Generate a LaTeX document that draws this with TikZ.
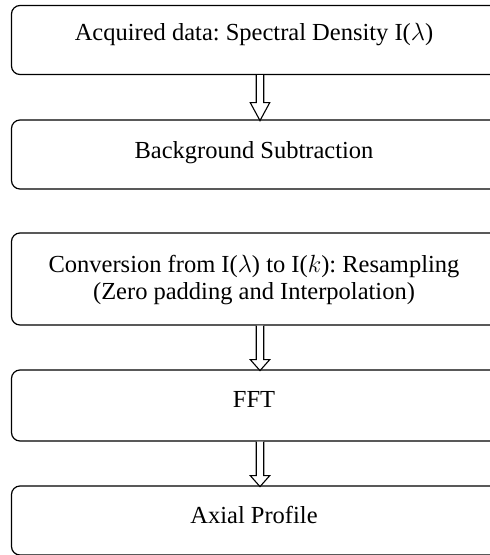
\documentclass[tikz,border=0pt]{standalone}
\usepackage{fontspec}
\setmainfont{Liberation Serif}
\usetikzlibrary{calc}
\frenchspacing
\tikzset{
  box/.style={draw, line width=1.2pt, rounded corners=8.5pt, inner sep=0pt, minimum width=487pt},
  txt/.style={font=\fontsize{24.5}{27}\selectfont, inner sep=0pt, align=center},
  blk/.style={draw, line width=1.1pt, fill=white, line join=miter}
}
\begin{document}
\begin{tikzpicture}[x=1pt,y=-1pt]
\useasboundingbox (0,0) rectangle (490,555);
\clip (0,0) rectangle (490,555);
% boxes: left 11.5, right 498.5
\node[box, minimum height=69pt] (b1) at (255,40) {};
\node[box, minimum height=69pt] (b2) at (255,154.5) {};
\node[box, minimum height=92pt] (b3) at (255,279) {};
\node[box, minimum height=71pt] (b4) at (255,405.5) {};
\node[box, minimum height=69pt] (b5) at (255,520.5) {};
% texts
\node[txt, anchor=base] (t1) at (254,40) {Acquired data: Spectral Density I($\lambda$)};
\node[txt, anchor=base] (t2) at (254,158) {Background Subtraction};
\node[txt, anchor=base] (t3) at (254,299) {Conversion from I($\lambda$) to I($k$): Resampling\\(Zero padding and Interpolation)};
\node[txt, anchor=base] (t4) at (254,407) {FFT};
\node[txt, anchor=base] (t5) at (254,523) {Axial Profile};
% block arrows
\coordinate (ax) at (260,0);
\draw[blk] (b1.south -| ax) ++(-3.75,0) -- ++(0,27.5) -- ++(-6,0) -- ++(9.75,18) -- ++(9.75,-18) -- ++(-6,0) -- ++(0,-27.5);
\draw[blk] (b3.south -| ax) ++(-3.75,0) -- ++(0,34) -- ++(-6,0) -- ++(9.75,11) -- ++(9.75,-11) -- ++(-6,0) -- ++(0,-34);
\draw[blk] (b4.south -| ax) ++(-3.75,0) -- ++(0,34) -- ++(-6,0) -- ++(9.75,11) -- ++(9.75,-11) -- ++(-6,0) -- ++(0,-34);
\end{tikzpicture}
\end{document}
